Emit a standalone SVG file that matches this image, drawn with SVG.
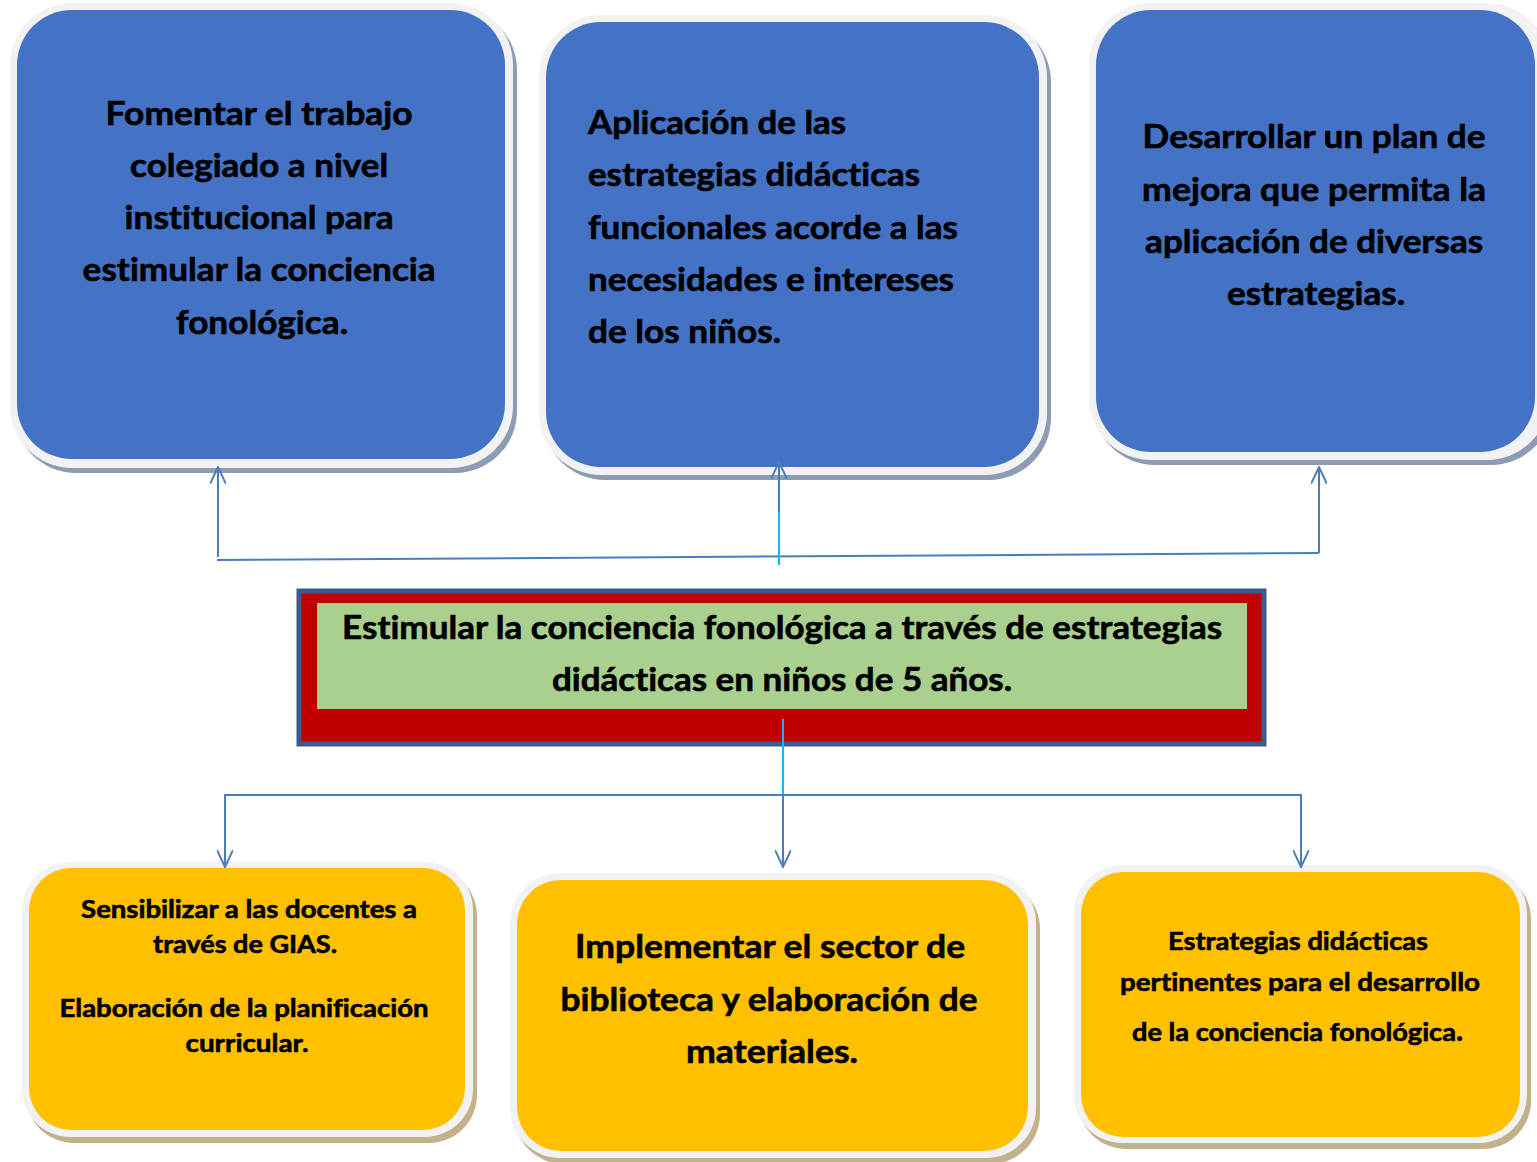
<svg xmlns="http://www.w3.org/2000/svg" width="1537" height="1162" viewBox="0 0 1537 1162">
<defs>
<style>
.t{font-family:Lato,"Liberation Sans",sans-serif;font-weight:700;fill:#000;stroke:#000;stroke-width:0.6;font-variant-ligatures:none}
.t32{font-size:32px}
.t24{font-size:24px}
.frame{fill:#f2f2f2}
.shb{fill:#8d9bb3}
.shy{fill:#c2b28a}
.blue{fill:#4472c4}
.yel{fill:#ffc000}
.con{fill:none;stroke:#4a7ebb;stroke-width:2}
.cy{fill:none;stroke:#22b2e8;stroke-width:2}
</style>
<marker id="ah" viewBox="0 0 18 16" refX="17" refY="8" markerWidth="18" markerHeight="16" markerUnits="userSpaceOnUse" orient="auto">
<path d="M0,0 L17,8 L0,16" fill="none" stroke="#4a7ebb" stroke-width="2"/>
</marker>
</defs>
<rect width="1537" height="1162" fill="#fff"/>

<g id="n1">
<rect class="shb" x="14" y="8" width="503" height="465" rx="62"/>
<rect class="frame" x="10" y="3" width="503" height="465" rx="62"/>
<rect class="blue" x="17" y="10" width="488" height="449" rx="55"/>
<text class="t t32" text-anchor="middle">
<tspan x="263" y="125" textLength="307" lengthAdjust="spacingAndGlyphs">Fomentar el trabajo</tspan>
<tspan x="263" y="177" textLength="258" lengthAdjust="spacingAndGlyphs">colegiado a nivel</tspan>
<tspan x="263" y="229" textLength="269" lengthAdjust="spacingAndGlyphs">institucional para</tspan>
<tspan x="263" y="281" textLength="353" lengthAdjust="spacingAndGlyphs">estimular la conciencia</tspan>
<tspan x="262" y="334" textLength="172" lengthAdjust="spacingAndGlyphs">fonológica.</tspan>
</text>
</g>

<g id="n2">
<rect class="shb" x="543" y="20" width="508" height="460" rx="62"/>
<rect class="frame" x="539" y="15" width="508" height="460" rx="62"/>
<rect class="blue" x="546" y="22" width="493" height="445" rx="55"/>
<text class="t t32">
<tspan x="588" y="134" textLength="258" lengthAdjust="spacingAndGlyphs">Aplicación de las</tspan>
<tspan x="588" y="186" textLength="332" lengthAdjust="spacingAndGlyphs">estrategias didácticas</tspan>
<tspan x="588" y="239" textLength="370" lengthAdjust="spacingAndGlyphs">funcionales acorde a las</tspan>
<tspan x="588" y="291" textLength="366" lengthAdjust="spacingAndGlyphs">necesidades e intereses</tspan>
<tspan x="588" y="343" textLength="193" lengthAdjust="spacingAndGlyphs">de los niños.</tspan>
</text>
</g>

<g id="n3">
<rect class="shb" x="1093" y="8" width="460" height="457" rx="62"/>
<rect class="frame" x="1089" y="3" width="460" height="457" rx="62"/>
<rect class="blue" x="1096" y="10" width="439" height="442" rx="55"/>
<text class="t t32" text-anchor="middle">
<tspan x="1318" y="148" textLength="343" lengthAdjust="spacingAndGlyphs">Desarrollar un plan de</tspan>
<tspan x="1318" y="201" textLength="344" lengthAdjust="spacingAndGlyphs">mejora que permita la</tspan>
<tspan x="1318" y="253" textLength="338" lengthAdjust="spacingAndGlyphs">aplicación de diversas</tspan>
<tspan x="1316" y="305" textLength="178" lengthAdjust="spacingAndGlyphs">estrategias.</tspan>
</text>
</g>

<g id="center">
<rect x="299" y="591" width="965" height="153" fill="#c00000" stroke="#3c5a8c" stroke-width="5"/>
<rect x="317" y="603" width="930" height="106" fill="#a9d08e"/>
<text class="t t32" text-anchor="middle">
<tspan x="786" y="639" textLength="880" lengthAdjust="spacingAndGlyphs">Estimular la conciencia fonológica a través de estrategias</tspan>
<tspan x="782" y="691" textLength="460" lengthAdjust="spacingAndGlyphs">didácticas en niños de 5 años.</tspan>
</text>
</g>

<g id="n4">
<rect class="shy" x="26" y="868" width="451" height="275" rx="48"/>
<rect class="frame" x="22" y="862" width="451" height="275" rx="48"/>
<rect class="yel" x="29" y="868" width="436" height="262" rx="42"/>
<text class="t t24" text-anchor="middle">
<tspan x="252" y="918" textLength="336" lengthAdjust="spacingAndGlyphs">Sensibilizar a las docentes a</tspan>
<tspan x="248" y="953" textLength="184" lengthAdjust="spacingAndGlyphs">través de GIAS.</tspan>
<tspan x="247" y="1017" textLength="369" lengthAdjust="spacingAndGlyphs">Elaboración de la planificación</tspan>
<tspan x="247" y="1052" textLength="123" lengthAdjust="spacingAndGlyphs">curricular.</tspan>
</text>
</g>

<g id="n5">
<rect class="shy" x="514" y="879" width="526" height="285" rx="50"/>
<rect class="frame" x="510" y="873" width="526" height="285" rx="50"/>
<rect class="yel" x="517" y="880" width="511" height="271" rx="44"/>
<text class="t t32" text-anchor="middle">
<tspan x="774" y="958" textLength="390" lengthAdjust="spacingAndGlyphs">Implementar el sector de</tspan>
<tspan x="773" y="1011" textLength="417" lengthAdjust="spacingAndGlyphs">biblioteca y elaboración de</tspan>
<tspan x="772" y="1063" textLength="172" lengthAdjust="spacingAndGlyphs">materiales.</tspan>
</text>
</g>

<g id="n6">
<rect class="shy" x="1078" y="871" width="453" height="278" rx="48"/>
<rect class="frame" x="1074" y="865" width="453" height="278" rx="48"/>
<rect class="yel" x="1081" y="872" width="439" height="265" rx="42"/>
<text class="t t24" text-anchor="middle">
<tspan x="1301" y="950" textLength="260" lengthAdjust="spacingAndGlyphs">Estrategias didácticas</tspan>
<tspan x="1300" y="991" textLength="360" lengthAdjust="spacingAndGlyphs">pertinentes para el desarrollo</tspan>
</text>
<text class="t t24" x="1132" y="1041"><tspan textLength="324" lengthAdjust="spacingAndGlyphs">de la conciencia fonológica</tspan><tspan font-size="30px">.</tspan></text>
</g>

<g id="connectors">
<line class="con" x1="217" y1="560" x2="1319" y2="553"/>
<line class="con" x1="218" y1="557" x2="218" y2="467" marker-end="url(#ah)"/>
<line class="con" x1="779" y1="520" x2="779" y2="462" marker-end="url(#ah)"/>
<line class="cy" x1="779" y1="512" x2="779" y2="565"/>
<line class="con" x1="1319" y1="553" x2="1319" y2="467" marker-end="url(#ah)"/>
<line class="cy" x1="783" y1="719" x2="783" y2="795"/>
<polyline class="con" points="225,868 225,795 1301,795 1301,868"/>
<line class="con" x1="225" y1="795" x2="225" y2="867" marker-end="url(#ah)"/>
<line class="con" x1="783" y1="795" x2="783" y2="867" marker-end="url(#ah)"/>
<line class="con" x1="1301" y1="795" x2="1301" y2="867" marker-end="url(#ah)"/>
</g>
</svg>
